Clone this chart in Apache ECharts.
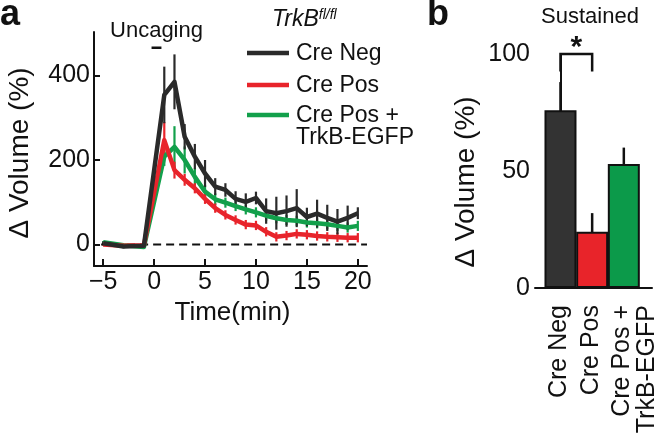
<!DOCTYPE html>
<html>
<head>
<meta charset="utf-8">
<script src="https://cdn.jsdelivr.net/npm/echarts@6/dist/echarts.min.js"></script>
<style>html,body{margin:0;padding:0;background:#fff;}#c{width:656px;height:441px;}</style>
</head>
<body>
<div id="c"></div>
<script>
// ---- Panel a data ----
const timeMin = [-5, -3, -1, 1, 2, 3, 4, 5, 6, 7, 8, 9, 10, 11, 12, 13, 14, 15, 16, 17, 18, 19, 20];
const creNeg    = [3, -5, -3, 354, 385, 255, 208, 168, 137, 129, 108, 101, 110, 79, 74, 79, 86, 65, 73, 63, 54, 63, 74];
const creNegErr = [4, 4, 4, 67, 65, 30, 30, 32, 20, 16, 18, 20, 15, 30, 39, 37, 45, 22, 33, 31, 30, 29, 14];
const crePos    = [0, -3, -2, 247, 176, 153, 133, 108, 86, 70, 58, 47, 45, 30, 18, 21, 25, 23, 20, 18, 17, 16, 16];
const crePosErr = [3, 3, 3, 43, 20, 14, 12, 12, 11, 11, 11, 11, 11, 11, 11, 11, 11, 11, 11, 11, 11, 11, 11];
const creGfp    = [5, -2, -6, 208, 231, 200, 160, 125, 107, 99, 91, 83, 76, 68, 62, 58, 56, 52, 50, 48, 44, 40, 44];
const creGfpErr = [3, 3, 3, 22, 49, 32, 20, 16, 14, 12, 12, 12, 12, 12, 12, 12, 12, 12, 12, 12, 12, 12, 12];
const xTicksA = [-5, 0, 5, 10, 15, 20];
const yTicksA = [0, 200, 400];
const uncagingSpan = [-0.25, 0.72];
const uncagingLevel = 466;

// ---- Panel b data ----
const barCats = [['Cre Neg'], ['Cre Pos'], ['Cre Pos +', 'TrkB-EGFP']];
const barVals = [76, 24, 53];
const barErr  = [12, 8, 7];
const yTicksB = [0, 50, 100];
const sigPair = [0, 1];

const FONT = 'Liberation Sans, Arial, Helvetica, sans-serif';
const C_BLACK = '#2a2a2a', C_RED = '#e8242b', C_GREEN = '#12a04b';
const C_BAR_BLACK = '#333333', C_BAR_RED = '#e8242a', C_BAR_GREEN = '#0c9a4a';

function errData(xs, ys, es) { return xs.map((x, i) => [x, ys[i] - es[i], ys[i] + es[i]]); }
function errSeries(data, color, xi, yi, w) {
  return {
    type: 'custom', xAxisIndex: xi, yAxisIndex: yi, data: data, silent: true,
    encode: { x: 0, y: [1, 2] },
    renderItem: function (params, api) {
      const p1 = api.coord([api.value(0), api.value(1)]);
      const p2 = api.coord([api.value(0), api.value(2)]);
      return { type: 'line', shape: { x1: p1[0], y1: p1[1], x2: p2[0], y2: p2[1] }, style: { stroke: color, lineWidth: w } };
    }
  };
}
function lineSeries(ys, color) {
  return {
    type: 'line', xAxisIndex: 0, yAxisIndex: 0, data: timeMin.map((t, i) => [t, ys[i]]),
    symbol: 'none', lineStyle: { color: color, width: 4.5, join: 'round' }, silent: true
  };
}

const chart = echarts.init(document.getElementById('c'), null, { renderer: 'canvas' });
const baseGraphic = [
  { id: 'pa', type: 'text', left: 0, top: -3, style: { text: 'a', fontSize: 36, fontWeight: 'bold', fontFamily: FONT, fill: '#111' } },
  { id: 'pb', type: 'text', left: 427, top: -3, style: { text: 'b', fontSize: 36, fontWeight: 'bold', fontFamily: FONT, fill: '#111' } },
  { id: 'unc', type: 'text', x: 156.5, y: 31, style: { text: 'Uncaging', fontSize: 22, fontFamily: FONT, fill: '#111', align: 'center', verticalAlign: 'middle' } },
  { id: 'sus', type: 'text', x: 590, y: 17, style: { text: 'Sustained', fontSize: 22, fontFamily: FONT, fill: '#111', align: 'center', verticalAlign: 'middle' } },
  { id: 'trk', type: 'text', x: 272, y: 20, style: {
      text: '{t|TrkB}{s|fl/fl}', fontFamily: FONT, fill: '#111', align: 'left', verticalAlign: 'middle',
      rich: { t: { fontSize: 23, fontStyle: 'italic', fontFamily: FONT }, s: { fontSize: 14, fontStyle: 'italic', fontFamily: FONT, verticalAlign: 'top', padding: [0, 0, 10, 0] } }
    } },
  { id: 'l1', type: 'line', shape: { x1: 247, y1: 53, x2: 289, y2: 53 }, style: { stroke: C_BLACK, lineWidth: 4.5 } },
  { id: 'l2', type: 'line', shape: { x1: 247, y1: 85, x2: 289, y2: 85 }, style: { stroke: C_RED, lineWidth: 4.5 } },
  { id: 'l3', type: 'line', shape: { x1: 247, y1: 115, x2: 289, y2: 115 }, style: { stroke: C_GREEN, lineWidth: 4.5 } },
  { id: 't1', type: 'text', x: 296, y: 54, style: { text: 'Cre Neg', fontSize: 23, fontFamily: FONT, fill: '#111', verticalAlign: 'middle' } },
  { id: 't2', type: 'text', x: 296, y: 86, style: { text: 'Cre Pos', fontSize: 23, fontFamily: FONT, fill: '#111', verticalAlign: 'middle' } },
  { id: 't3', type: 'text', x: 296, y: 116, style: { text: 'Cre Pos +', fontSize: 23, fontFamily: FONT, fill: '#111', verticalAlign: 'middle' } },
  { id: 't4', type: 'text', x: 296, y: 138, style: { text: 'TrkB-EGFP', fontSize: 23, fontFamily: FONT, fill: '#111', verticalAlign: 'middle' } }
];
const option = {
  animation: false,
  backgroundColor: '#fff',
  textStyle: { fontFamily: FONT },
  grid: [
    { left: 94, top: 32, width: 273, height: 234 },
    { left: 535, top: 54, width: 117, height: 234 }
  ],
  xAxis: [
    {
      gridIndex: 0, type: 'value', min: -5.9, max: 20.9,
      axisLine: { show: true, onZero: false, lineStyle: { color: '#111', width: 2 } },
      axisTick: { show: true, inside: true, length: 7, customValues: xTicksA, lineStyle: { color: '#111', width: 2 } },
      axisLabel: { customValues: xTicksA, fontSize: 25, color: '#111', margin: 4, fontFamily: FONT,
        formatter: v => (v < 0 ? '\u2212' + Math.abs(v) : String(v)) },
      splitLine: { show: false },
      name: 'Time(min)', nameLocation: 'middle', nameGap: 25,
      nameTextStyle: { fontSize: 26, color: '#111', fontFamily: FONT, padding: [0, 0, 0, 4] }
    },
    {
      gridIndex: 1, type: 'value', min: -0.805, max: 2.89,
      axisLine: { show: true, onZero: false, lineStyle: { color: '#111', width: 2 } },
      axisTick: { show: false },
      axisLabel: { show: false },
      splitLine: { show: false }
    }
  ],
  yAxis: [
    {
      gridIndex: 0, type: 'value', min: -51, max: 503,
      axisLine: { show: true, onZero: false, lineStyle: { color: '#111', width: 2 } },
      axisTick: { show: true, inside: true, length: 6, customValues: yTicksA, lineStyle: { color: '#111', width: 2 } },
      axisLabel: { customValues: yTicksA, fontSize: 25, color: '#111', margin: 4, fontFamily: FONT },
      splitLine: { show: false },
      name: '\u0394 Volume (%)', nameLocation: 'middle', nameGap: 60, nameRotate: 90,
      nameTextStyle: { fontSize: 28, color: '#111', fontFamily: FONT, padding: [0, 8, 0, 0] }
    },
    {
      gridIndex: 1, type: 'value', min: 0, max: 100, interval: 50,
      axisLine: { show: true, lineStyle: { color: '#111', width: 2 } },
      axisTick: { show: true, inside: true, length: 6, lineStyle: { color: '#111', width: 2 } },
      axisLabel: { fontSize: 25, color: '#111', margin: 5, fontFamily: FONT },
      splitLine: { show: false },
      name: '\u0394 Volume (%)', nameLocation: 'middle', nameGap: 55, nameRotate: 90,
      nameTextStyle: { fontSize: 28, color: '#111', fontFamily: FONT, padding: [0, 22, 0, 0] }
    }
  ],
  series: [
    {
      type: 'line', xAxisIndex: 0, yAxisIndex: 0, data: [[-5.2, 0], [20.9, 0]], symbol: 'none', silent: true,
      lineStyle: { color: '#111', width: 2, type: [8, 5] }
    },
    {
      type: 'line', xAxisIndex: 0, yAxisIndex: 0, data: [[uncagingSpan[0], uncagingLevel], [uncagingSpan[1], uncagingLevel]],
      symbol: 'none', silent: true, lineStyle: { color: '#111', width: 2.5 }
    },
    lineSeries(creGfp, C_GREEN),
    errSeries(errData(timeMin, creGfp, creGfpErr), C_GREEN, 0, 0, 2.2),
    lineSeries(crePos, C_RED),
    errSeries(errData(timeMin, crePos, crePosErr), C_RED, 0, 0, 2.2),
    lineSeries(creNeg, C_BLACK),
    errSeries(errData(timeMin, creNeg, creNegErr), C_BLACK, 0, 0, 2.2),
    {
      type: 'bar', xAxisIndex: 1, yAxisIndex: 1, barWidth: 32, silent: true,
      data: barVals.map((v, i) => ({ value: [i, v], itemStyle: { color: [C_BAR_BLACK, C_BAR_RED, C_BAR_GREEN][i] } })),
      itemStyle: { borderColor: '#111', borderWidth: 2 }
    },
    errSeries(errData([0, 1, 2], barVals, barErr), '#111', 1, 1, 2.5),
    {
      type: 'custom', xAxisIndex: 1, yAxisIndex: 1, silent: true, clip: false,
      data: [[sigPair[0], sigPair[1], 100, 92.5]],
      renderItem: function (params, api) {
        const a = api.coord([api.value(0), api.value(2)]);
        const b = api.coord([api.value(1), api.value(2)]);
        const a2 = api.coord([api.value(0), api.value(3)]);
        const b2 = api.coord([api.value(1), api.value(3)]);
        return {
          type: 'group', children: [
            { type: 'polyline', shape: { points: [a2, a, b, b2] }, style: { stroke: '#111', lineWidth: 2.5, fill: null } },
            { type: 'text', x: (a[0] + b[0]) / 2, y: a[1] - 6, style: { text: '*', fontSize: 30, fontWeight: 'bold', fontFamily: FONT, fill: '#111', align: 'center', verticalAlign: 'middle' } }
          ]
        };
      }
    }
  ],
  graphic: baseGraphic
};
chart.setOption(option);

// category labels under panel b, positioned from the axis scale
const catGraphics = [];
barCats.forEach((lines, i) => {
  const p = chart.convertToPixel({ xAxisIndex: 1, yAxisIndex: 1 }, [i, 0]);
  lines.forEach((txt, j) => {
    const dx = lines.length > 1 ? (j === 0 ? -2 : 23) : -1;
    catGraphics.push({
      id: 'cat' + i + '_' + j, type: 'text', x: p[0] + dx, y: p[1] + 17, rotation: Math.PI / 2,
      style: { text: txt, fontSize: 25, fontFamily: FONT, fill: '#111', align: 'right', verticalAlign: 'middle' }
    });
  });
});
chart.setOption({ graphic: baseGraphic.concat(catGraphics) });
</script>
</body>
</html>
